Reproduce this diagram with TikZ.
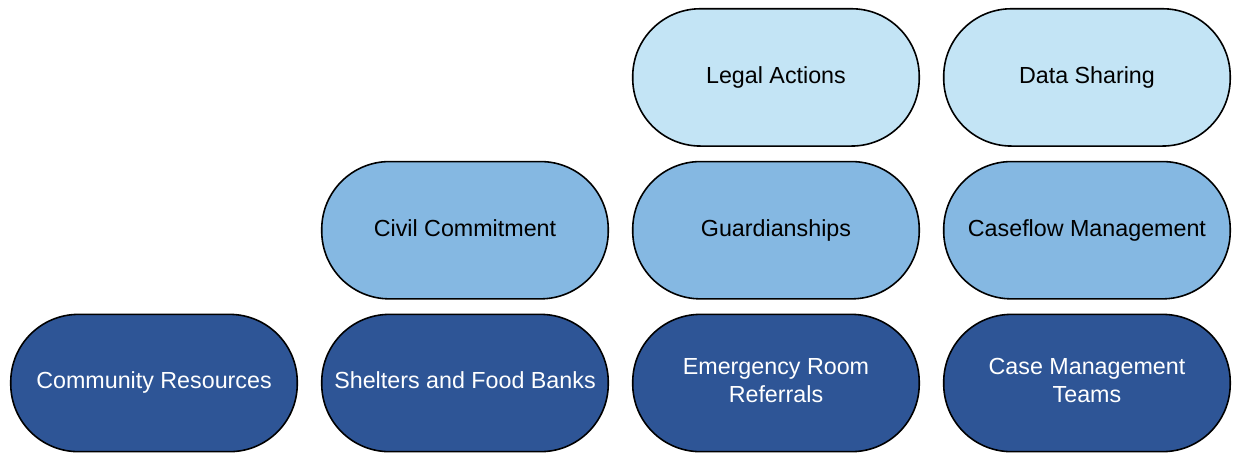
\documentclass[tikz,border=0pt]{standalone}
\usepackage{fontspec}
\setmainfont{Liberation Sans}
\usepackage{tikz}
\usetikzlibrary{calc}
\usetikzlibrary{positioning}

\definecolor{basecol}{HTML}{2E5596}
\definecolor{midcol}{HTML}{85B8E2}
\definecolor{topcol}{HTML}{C3E4F5}

\begin{document}
\begin{tikzpicture}[service/.style={rectangle, rounded corners=34pt, draw=black, line width=0.8pt, minimum width=144pt, minimum height=69pt, inner sep=2pt, align=center, font=\fontsize{11.7}{14.2}\selectfont},
        oneline/.style={text height=9pt, text depth=3.1pt},
        twoline/.style={text height=23pt, text depth=3pt},
        base/.style={service, fill=basecol, text=white},
        middle/.style={service, oneline, fill=midcol, text=black},
        upper/.style={service, oneline, fill=topcol, text=black},
        every node/.style={node distance=7pt and 11.5pt}
        ]
        \def\baserow{Community Resources/oneline, Shelters and Food Banks/oneline, {Emergency Room\\Referrals}/twoline, {Case Management\\Teams}/twoline}

        % bottom row, left to right
        \foreach \x/\lines[count=\xi from 1, remember=\xi as \prevxi (initially 0)] in \baserow {
            \ifnum \xi = 1
            \node[base, \lines] (B\xi) {\x};
            \else
            \node[base, \lines, right=of B\prevxi] (B\xi) {\x};
            \fi
        }

        % second row sits on columns 2 to 4
        \foreach \x[count=\xi from 2] in {Civil Commitment, Guardianships, Caseflow Management} {
            \node[middle, above=of B\xi] (M\xi) {\x};
        }

        % top row on columns 3 and 4
        \foreach \x[count=\xi from 3] in {Legal Actions, Data Sharing} {
            \node[upper, above=of M\xi] (T\xi) {\x};
        }

        \useasboundingbox ($(B1.south west)+(-5pt,-1pt)$) rectangle ($(T4.north east)+(2pt,4pt)$);
    \end{tikzpicture}
\end{document}
